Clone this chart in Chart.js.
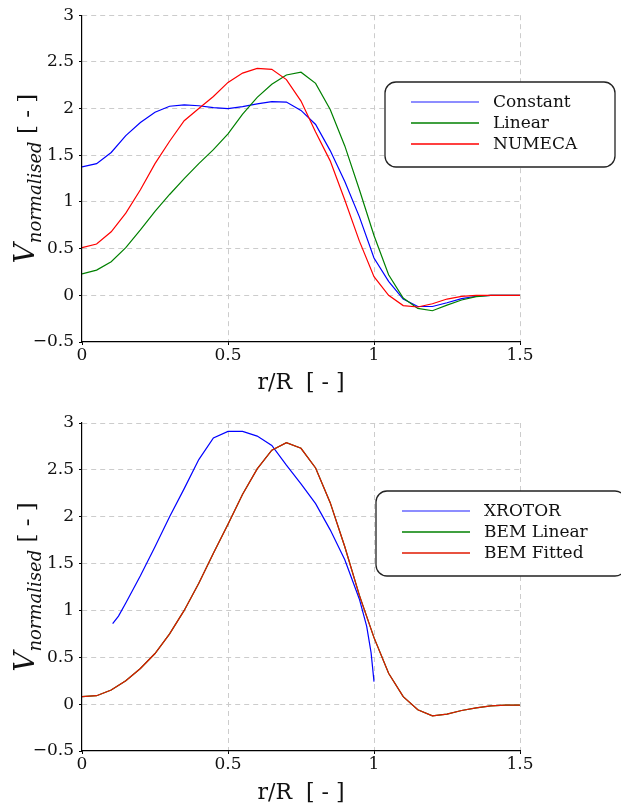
<!DOCTYPE html>
<html>
<head>
<meta charset="utf-8">
<script src="https://cdn.jsdelivr.net/npm/chart.js@4/dist/chart.umd.min.js"></script>
<style>
  body { margin: 0; background: #fff; }
  .box { position: relative; width: 621px; }
</style>
</head>
<body>
<div class="box" style="height:400px"><canvas id="topChart" width="621" height="400"></canvas></div>
<div class="box" style="height:410px"><canvas id="bottomChart" width="621" height="410"></canvas></div>
<script>
// r/R abscissa (top plot and BEM curves)
const rGrid = [0, 0.05, 0.1, 0.15, 0.2, 0.25, 0.3, 0.35, 0.4, 0.45, 0.5, 0.55, 0.6, 0.65, 0.7, 0.75,
  0.8, 0.85, 0.9, 0.95, 1.0, 1.05, 1.1, 1.15, 1.2, 1.25, 1.3, 1.35, 1.4, 1.45, 1.5];

// top plot
const constant = [1.375, 1.41, 1.53, 1.71, 1.85, 1.96, 2.025, 2.04, 2.03, 2.01, 2.0, 2.02, 2.05, 2.075, 2.07, 1.98,
  1.83, 1.55, 1.22, 0.84, 0.40, 0.15, -0.04, -0.12, -0.12, -0.08, -0.035, -0.01, 0, 0, 0];
const linear = [0.23, 0.27, 0.36, 0.51, 0.70, 0.90, 1.08, 1.25, 1.41, 1.56, 1.73, 1.94, 2.12, 2.26, 2.36, 2.39,
  2.27, 1.99, 1.60, 1.13, 0.64, 0.22, -0.03, -0.14, -0.165, -0.105, -0.05, -0.015, 0, 0, 0];
const numeca = [0.51, 0.55, 0.68, 0.88, 1.13, 1.41, 1.65, 1.87, 2.00, 2.13, 2.28, 2.38, 2.43, 2.42, 2.31, 2.08,
  1.75, 1.44, 1.02, 0.58, 0.20, 0.0, -0.11, -0.125, -0.09, -0.04, -0.012, 0, 0, 0, 0];

// bottom plot
const rXrotor = [0.105, 0.125, 0.15, 0.2, 0.25, 0.3, 0.35, 0.4, 0.45, 0.5, 0.55, 0.6, 0.65, 0.7, 0.75,
  0.8, 0.85, 0.9, 0.95, 0.975, 0.99, 1.0];
const xrotor = [0.86, 0.94, 1.08, 1.37, 1.68, 2.00, 2.30, 2.61, 2.84, 2.91, 2.91, 2.86, 2.76, 2.55, 2.35,
  2.14, 1.86, 1.54, 1.12, 0.83, 0.55, 0.24];
const bemLinear = [0.08, 0.09, 0.15, 0.25, 0.38, 0.54, 0.75, 1.0, 1.29, 1.61, 1.92, 2.24, 2.51, 2.71, 2.79, 2.73,
  2.52, 2.15, 1.68, 1.16, 0.71, 0.33, 0.08, -0.06, -0.125, -0.107, -0.068, -0.04, -0.018, -0.01, -0.01];
const bemFitted = [0.08, 0.09, 0.15, 0.25, 0.38, 0.54, 0.75, 1.0, 1.29, 1.61, 1.92, 2.24, 2.51, 2.71, 2.79, 2.73,
  2.52, 2.15, 1.68, 1.16, 0.71, 0.33, 0.08, -0.06, -0.125, -0.107, -0.068, -0.04, -0.018, -0.01, -0.01];

const xTicks = [0, 0.5, 1, 1.5];
const yTicks = [-0.5, 0, 0.5, 1, 1.5, 2, 2.5, 3];

const SERIF = "'DejaVu Serif', 'Liberation Serif', serif";

function pts(xs, ys) {
  return xs.map((x, i) => ({ x: x, y: ys[i] }));
}

function fmt(v) {
  return v < 0 ? "\u2212" + Math.abs(v) : String(v);
}

// later series drawn on top
function serie(label, xs, ys, color, idx) {
  return {
    label: label,
    data: pts(xs, ys),
    borderColor: color,
    borderWidth: 1.2,
    pointRadius: 0,
    tension: 0,
    fill: false,
    order: 10 - idx
  };
}

// y title: V_normalised [ - ] drawn rotated
const yTitle = {
  id: "yTitle",
  afterDraw(chart) {
    const ctx = chart.ctx;
    const a = chart.chartArea;
    const parts = [
      { t: "V", f: "italic 28px " + SERIF, dy: 0 },
      { t: "normalised", f: "italic 18px " + SERIF, dy: 7 },
      { t: " [ - ]", f: "23px " + SERIF, dy: 0 }
    ];
    ctx.save();
    let w = 0;
    parts.forEach(p => { ctx.font = p.f; p.w = ctx.measureText(p.t).width; w += p.w; });
    ctx.translate(34, (a.top + a.bottom) / 2);
    ctx.rotate(-Math.PI / 2);
    ctx.fillStyle = "#111";
    ctx.textBaseline = "alphabetic";
    let x = -w / 2;
    parts.forEach(p => { ctx.font = p.f; ctx.fillText(p.t, x, p.dy); x += p.w; });
    ctx.restore();
  }
};

// boxed legend inside the plot
const boxLegend = {
  id: "boxLegend",
  afterDraw(chart, args, o) {
    const ctx = chart.ctx;
    ctx.save();
    ctx.beginPath();
    ctx.roundRect(o.x, o.y, o.w, o.h, 11);
    ctx.fillStyle = "#fff";
    ctx.fill();
    ctx.lineWidth = 1.3;
    ctx.strokeStyle = "#222";
    ctx.stroke();
    ctx.font = "17px " + SERIF;
    ctx.textBaseline = "middle";
    chart.data.datasets.forEach((d, i) => {
      const y = o.y + o.first + i * 21;
      ctx.strokeStyle = d.borderColor;
      ctx.globalAlpha = i === 0 ? 0.6 : 1;
      ctx.lineWidth = 1.6;
      ctx.beginPath();
      ctx.moveTo(o.lx, y);
      ctx.lineTo(o.lx + 68, y);
      ctx.stroke();
      ctx.globalAlpha = 1;
      ctx.fillStyle = "#111";
      ctx.fillText(d.label, o.lx + 82, y + 1);
    });
    ctx.restore();
  }
};

function options(legendPos, padTop, xHeight) {
  // no dashed grid line on the solid axes (left and bottom)
  const gridFor = edge => ({
    color: c => (c.tick && c.tick.value === edge ? "rgba(0,0,0,0)" : "#cccccc"),
    lineWidth: 1,
    tickColor: "#000",
    tickLength: 3
  });
  const border = { display: true, color: "#000", width: 1.2, dash: [5, 4], z: 1 };
  return {
    responsive: false,
    animation: false,
    layout: { padding: { top: padTop, right: 101, left: 0, bottom: 0 } },
    plugins: {
      legend: { display: false },
      tooltip: { enabled: false },
      boxLegend: legendPos
    },
    scales: {
      x: {
        type: "linear",
        min: 0,
        max: 1.5,
        afterBuildTicks: s => { s.ticks = xTicks.map(v => ({ value: v })); },
        afterFit: s => { s.height = xHeight; },
        ticks: { color: "#111", font: { family: SERIF, size: 17 }, padding: 0, maxRotation: 0, callback: fmt },
        grid: gridFor(0),
        border: border,
        title: { display: true, text: "r/R  [ - ]", color: "#111", font: { family: SERIF, size: 22 }, padding: { top: 3 } }
      },
      y: {
        type: "linear",
        min: -0.5,
        max: 3,
        afterBuildTicks: s => { s.ticks = yTicks.map(v => ({ value: v })); },
        afterFit: s => { s.width = 82; },
        ticks: { color: "#111", font: { family: SERIF, size: 17 }, padding: 5, callback: fmt },
        grid: gridFor(-0.5),
        border: border
      }
    }
  };
}

new Chart(document.getElementById("topChart"), {
  type: "line",
  data: {
    datasets: [
      serie("Constant", rGrid, constant, "#0000ff", 0),
      serie("Linear", rGrid, linear, "#008000", 1),
      serie("NUMECA", rGrid, numeca, "#ff0000", 2)
    ]
  },
  options: options({ x: 385, y: 82, w: 230, h: 85, lx: 411, first: 20 }, 14, 58),
  plugins: [yTitle, boxLegend]
});

new Chart(document.getElementById("bottomChart"), {
  type: "line",
  data: {
    datasets: [
      serie("XROTOR", rXrotor, xrotor, "#0000ff", 0),
      serie("BEM Linear", rGrid, bemLinear, "#008000", 1),
      serie("BEM Fitted", rGrid, bemFitted, "#e01800", 2)
    ]
  },
  options: options({ x: 376, y: 91, w: 250, h: 85, lx: 402, first: 20 }, 23, 59),
  plugins: [yTitle, boxLegend]
});
</script>
</body>
</html>
